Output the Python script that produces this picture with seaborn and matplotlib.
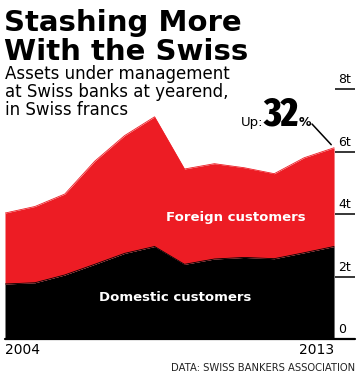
import matplotlib
matplotlib.use('Agg')
import matplotlib.pyplot as plt
from matplotlib import font_manager as fm
import seaborn as sns
import pandas as pd

sns.set_theme(style='white')
plt.rcParams['font.family'] = ['DejaVu Sans']
plt.rcParams['text.color'] = 'black'
plt.rcParams['xtick.color'] = 'black'

# assets at yearend, trillions of Swiss francs
periods = list(range(12))
domestic = [1.76, 1.80, 2.05, 2.39, 2.74, 2.96, 2.39, 2.56, 2.61, 2.57, 2.76, 2.96]
total = [4.03, 4.24, 4.64, 5.69, 6.51, 7.11, 5.44, 5.61, 5.48, 5.29, 5.80, 6.12]
foreign = [t - d for t, d in zip(total, domestic)]
year_ticks = [0, 11]
year_labels = ['2004', '2013']
y_ticks = [0, 2, 4, 6, 8]
y_labels = ['0', '2t', '4t', '6t', '8t']

df = pd.DataFrame({'period': periods, 'domestic': domestic,
                   'foreign': foreign, 'total': total})

RED = '#ed1c24'
W, H = 360, 376


def condensed_bold():
    # look for any installed condensed/narrow bold face for the big "32"
    best, best_key = None, None
    for f in fm.fontManager.ttflist:
        tag = (f.name + ' ' + f.fname).lower().replace('-', '').replace(' ', '')
        if not ('condensed' in tag or 'narrow' in tag or f.stretch in ('condensed', 'extra-condensed')):
            continue
        w = f.weight if isinstance(f.weight, int) else 400
        if w < 600:
            continue
        key = ('extracondensed' in tag, 'semicondensed' not in tag, -abs(w - 800), 'italic' not in tag)
        if 'italic' in tag or 'oblique' in tag:
            continue
        if best_key is None or key > best_key:
            best, best_key = f, key
    return best


fig = plt.figure(figsize=(W / 100, H / 100), dpi=100)
ax = fig.add_axes([5 / W, 37 / H, 350 / W, 250 / H])

ax.stackplot(df['period'], df['domestic'], df['foreign'],
             colors=['black', RED], linewidth=0)
sns.lineplot(data=df, x='period', y='total', color=RED, lw=0.6, ax=ax)
sns.lineplot(data=df, x='period', y='domestic', color='black', lw=0.6, ax=ax)

ax.set_xlim(0, 11.7)
ax.set_ylim(0, 8)
for s in ax.spines.values():
    s.set_visible(False)
ax.set_xlabel('')
ax.set_ylabel('')
ax.set_yticks([])

# baseline and right-hand scale
ax.axhline(0, color='black', lw=1.6, clip_on=False)
ax.hlines(y_ticks[1:], periods[-1] + 0.03, 11.7, color='black', lw=1.1, clip_on=False)
for v, lab in zip(y_ticks, y_labels):
    ax.text(11.13, v + 0.18, lab, fontsize=9, va='baseline', ha='left', color='black')

ax.set_xticks(year_ticks, year_labels, fontsize=10)
ax.tick_params(axis='x', length=0, pad=3, colors='black')
tl = ax.get_xticklabels()
tl[0].set_ha('left')
tl[1].set_ha('right')

ax.text(7.71, 3.79, 'Foreign customers', color='white', fontsize=9.5,
        weight='bold', ha='center', va='baseline')
ax.text(5.68, 1.22, 'Domestic customers', color='white', fontsize=9.5,
        weight='bold', ha='center', va='baseline')


def fy(y):
    return 1 - y / H


fig.text(4 / W, fy(31), 'Stashing More', fontsize=21, weight='bold', va='baseline')
fig.text(4 / W, fy(60), 'With the Swiss', fontsize=21, weight='bold', va='baseline')
for i, line in enumerate(['Assets under management',
                          'at Swiss banks at yearend,',
                          'in Swiss francs']):
    fig.text(5 / W, fy(79 + i * 18), line, fontsize=12, va='baseline')

# growth callout
fig.text(241 / W, fy(126), 'Up:', fontsize=9.5, va='baseline')
cf = condensed_bold()
if cf is not None:
    big = fm.FontProperties(fname=cf.fname, size=29)
else:
    big = fm.FontProperties(family='DejaVu Sans', weight='bold', size=21)
fig.text(264 / W, fy(126), '32', fontproperties=big, va='baseline')
fig.text(299 / W, fy(126), '%', fontsize=9, weight='bold', va='baseline')
ax.annotate('', xy=(periods[-1], total[-1]), xycoords='data',
            xytext=(312, H - 124), textcoords='figure pixels',
            arrowprops=dict(arrowstyle='-', color='black', lw=1.1,
                            shrinkA=0, shrinkB=3))

fig.text(355 / W, fy(371), 'DATA: SWISS BANKERS ASSOCIATION', fontsize=7.2,
         ha='right', va='baseline', color='#222222')

fig.savefig('out.png', dpi=100)
